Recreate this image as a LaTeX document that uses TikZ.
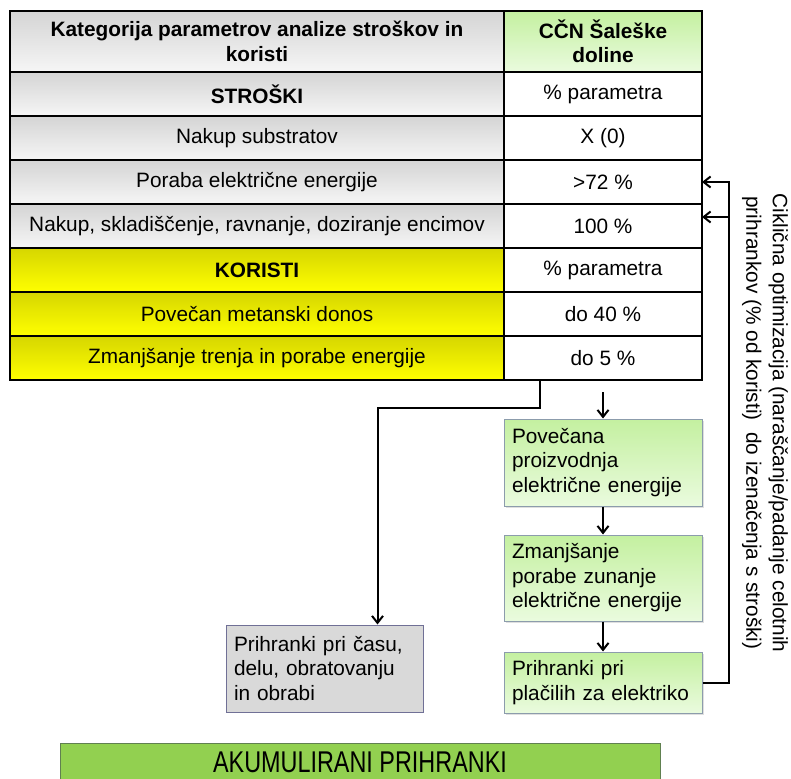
\documentclass[tikz,border=0pt]{standalone}
\usepackage{fontspec}
\setmainfont{Liberation Sans}
\usepackage{graphicx}
\usetikzlibrary{arrows.meta,shadows,calc}

\definecolor{hdgreentop}{RGB}{196,240,160}
\definecolor{hdgreenbot}{RGB}{234,251,222}
\definecolor{rowgraytop}{RGB}{212,212,212}
\definecolor{rowgraybot}{RGB}{246,246,246}
\definecolor{rowyeltop}{RGB}{214,214,0}
\definecolor{rowyelbot}{RGB}{255,255,0}
\definecolor{boxedge}{RGB}{140,156,172}
\definecolor{grayfill}{RGB}{217,217,217}
\definecolor{grayedge}{RGB}{112,112,150}
\definecolor{sumgreen}{RGB}{146,208,80}
\definecolor{sumedge}{RGB}{96,128,80}

\tikzset{
  cell/.style={draw=black, line width=1.3pt, minimum height=44pt, inner sep=0pt,
               outer sep=0pt, anchor=north west, align=center},
  lcell/.style={cell, minimum width=494pt},
  rcell/.style={cell, minimum width=198pt, fill=white},
  grayrow/.style={top color=rowgraytop, bottom color=rowgraybot},
  yelrow/.style={top color=rowyeltop, bottom color=rowyelbot},
  greenrow/.style={top color=hdgreentop, bottom color=hdgreenbot},
  gbox/.style={draw=boxedge, line width=1pt, top color=hdgreentop, bottom color=hdgreenbot,
               minimum width=198pt, text width=182pt, inner xsep=8pt, inner ysep=0pt,
               align=left, drop shadow={opacity=0.25, shadow xshift=1.5pt, shadow yshift=-1.5pt}},
  graybox/.style={draw=grayedge, line width=1pt, fill=grayfill, minimum width=197pt,
               text width=181pt, inner xsep=8pt, inner ysep=0pt, align=left},
  sumbar/.style={draw=sumedge, line width=1pt, fill=sumgreen, minimum width=600pt,
               minimum height=38pt, inner sep=0pt},
  flow/.style={line width=2pt, -{Straight Barb[length=7pt, width=11pt, line width=2pt]}}
}

\begin{document}
\begin{tikzpicture}[x=1pt, y=-1pt, font=\fontsize{20.8}{24.5}\selectfont]
    \clip (0,0) rectangle (791,778);
        % table: categories and values
        \node[lcell, grayrow, minimum height=61pt] (k0) at (10,11)
            {\textbf{Kategorija parametrov analize stroškov in}\\\textbf{koristi}};
        \node[rcell, greenrow, minimum height=61pt] (v0) at (504,11)
            {\textbf{CČN Šaleške}\\\textbf{doline}};
        \node[lcell, grayrow] (k1) at (10,72) {\textbf{STROŠKI}};
        \node[rcell] (v1) at (504,72) {\% parametra};
        \node[lcell, grayrow] (k2) at (10,116) {Nakup substratov};
        \node[rcell] (v2) at (504,116) {X (0)};
        \node[lcell, grayrow] (k3) at (10,160) {Poraba električne energije};
        \node[rcell] (v3) at (504,160) {>72 \%};
        \node[lcell, grayrow] (k4) at (10,204) {Nakup, skladiščenje, ravnanje, doziranje encimov};
        \node[rcell] (v4) at (504,204) {100 \%};
        \node[lcell, yelrow] (k5) at (10,248) {\textbf{KORISTI}};
        \node[rcell] (v5) at (504,248) {\% parametra};
        \node[lcell, yelrow] (k6) at (10,292) {Povečan metanski donos};
        \node[rcell] (v6) at (504,292) {do 40 \%};
        \node[lcell, yelrow] (k7) at (10,336) {Zmanjšanje trenja in porabe energije};
        \node[rcell] (v7) at (504,336) {do 5 \%};

        % savings chain
        \node[gbox, minimum height=87pt] (b1) at (603,462.5)
            {Povečana\\proizvodnja\\električne energije};
        \node[gbox, minimum height=86pt] (b2) at (603,578)
            {Zmanjšanje\\porabe zunanje\\električne energije};
        \node[gbox, minimum height=61pt] (b3) at (603,682.5)
            {Prihranki pri\\plačilih za elektriko};
        \node[graybox, minimum height=87pt] (cas) at (324.5,668.5)
            {Prihranki pri času,\\delu, obratovanju\\in obrabi};

        \node[rotate=-90, align=center] (cikl) at (765,423)
            {Ciklična optimizacija (naraščanje/padanje celotnih\\[2pt]
             prihrankov (\% od koristi)\ \ do izenačenja s stroški)};

        \node[sumbar] (akum) at (360,762)
            {\scalebox{0.78}[1]{\fontsize{30}{32}\selectfont AKUMULIRANI PRIHRANKI}};

        % connectors
        \coordinate (split) at ($(v7.south west)+(36,0)$);
        \coordinate (drop) at ($(cas.north west)+(152,0)$);
        \draw[flow] (split) -- ++(0,28) -| (drop);
        \draw[flow] ([yshift=-12pt]v7.south) -- (b1);
        \draw[flow] (b1) -- (b2);
        \draw[flow] (b2) -- (b3);
        \coordinate (fb) at ([xshift=26pt]b3.east);
        \coordinate (in4) at ([yshift=9pt]v4.east);
        \draw[flow] (b3.east) -- (fb) |- (v3.east);
        \draw[flow] (fb |- in4) -- (in4);
    \end{tikzpicture}
\end{document}
